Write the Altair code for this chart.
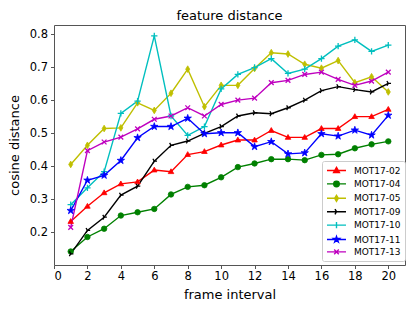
import re
import altair as alt
import pandas as pd

frames = list(range(1, 21))

mot02 = [0.232, 0.278, 0.319, 0.346, 0.352, 0.388, 0.383, 0.435, 0.444, 0.464,
         0.479, 0.479, 0.508, 0.487, 0.487, 0.514, 0.514, 0.550, 0.550, 0.572]
mot04 = [0.141, 0.185, 0.210, 0.250, 0.260, 0.270, 0.314, 0.337, 0.342, 0.366,
         0.397, 0.408, 0.421, 0.421, 0.418, 0.434, 0.436, 0.454, 0.466, 0.475]
mot05 = [0.405, 0.463, 0.514, 0.516, 0.592, 0.569, 0.621, 0.694, 0.580, 0.645,
         0.645, 0.696, 0.744, 0.740, 0.709, 0.697, 0.720, 0.653, 0.671, 0.625]
mot09 = [0.134, 0.205, 0.245, 0.312, 0.339, 0.415, 0.463, 0.476, 0.499, 0.520,
         0.552, 0.562, 0.559, 0.577, 0.600, 0.629, 0.641, 0.632, 0.625, 0.651]
mot10 = [0.283, 0.334, 0.383, 0.560, 0.597, 0.795, 0.552, 0.493, 0.520, 0.634,
         0.678, 0.699, 0.726, 0.681, 0.694, 0.726, 0.764, 0.783, 0.748, 0.767]
mot11 = [0.265, 0.357, 0.372, 0.417, 0.486, 0.520, 0.520, 0.545, 0.498, 0.501,
         0.501, 0.459, 0.474, 0.437, 0.440, 0.498, 0.491, 0.509, 0.494, 0.554]
mot13 = [0.214, 0.447, 0.473, 0.488, 0.513, 0.542, 0.552, 0.577, 0.552, 0.587,
         0.600, 0.606, 0.653, 0.660, 0.678, 0.685, 0.663, 0.645, 0.658, 0.685]

series_names = ["MOT17-02", "MOT17-04", "MOT17-05", "MOT17-09",
                "MOT17-10", "MOT17-11", "MOT17-13"]
series_values = [mot02, mot04, mot05, mot09, mot10, mot11, mot13]
series_colors = ["#ff0000", "#008000", "#bfbf00", "#000000",
                 "#00bfbf", "#0000ff", "#bf00bf"]

x_ticks = list(range(0, 21, 2))
y_ticks = [0.2, 0.3, 0.4, 0.5, 0.6, 0.7, 0.8]

rows = []
for name, vals in zip(series_names, series_values):
    for f, v in zip(frames, vals):
        rows.append({"frame": f, "dist": v, "series": name})
df = pd.DataFrame(rows)

# marker glyphs (unit square -1..1)
star = ("M0,-1L0.2234,-0.3074L0.951,-0.309L0.3614,0.1174L0.5878,0.809L0,0.38"
        "L-0.5878,0.809L-0.3614,0.1174L-0.951,-0.309L-0.2234,-0.3074Z")
markers = [
    ("M0,-1L0.95,0.65L-0.95,0.65Z", True, 34),
    ("circle", True, 30),
    ("M0,-1L0.6,0L0,1L-0.6,0Z", True, 45),
    ("M0,0L1,0M0,0L-0.5,-0.87M0,0L-0.5,0.87", False, 30),
    ("M-1,0L1,0M0,-1L0,1", False, 40),
    (star, True, 60),
    ("M-0.75,-0.75L0.75,0.75M-0.75,0.75L0.75,-0.75", False, 40),
]


def transform_path(p, k, dx):
    out = []
    for cmd, args in re.findall(r"([MLZ])([^MLZ]*)", p):
        if cmd == "Z":
            out.append("Z")
            continue
        xs, ys = args.split(",")
        out.append("%s%.3f,%.3f" % (cmd, float(xs) * k + dx, float(ys) * k))
    return "".join(out)


# legend glyph: a short line with the marker at its middle
LEG_L, LEG_R = -1.0, 3.22
LEG_C = (LEG_L + LEG_R) / 2
legend_paths = []
for shp, filled, size in markers:
    if shp == "circle":
        r = 0.62
        glyph = "M%.3f,0A%.3f,%.3f 0 1,0 %.3f,0A%.3f,%.3f 0 1,0 %.3f,0Z" % (
            LEG_C - r, r, r, LEG_C + r, r, r, LEG_C - r)
    else:
        glyph = transform_path(shp, 0.68, LEG_C)
    legend_paths.append("M%.2f,0L%.2f,0" % (LEG_L, LEG_R) + glyph)

x_enc = alt.X("frame:Q",
              scale=alt.Scale(domain=[0, 21], nice=False, zero=False),
              axis=alt.Axis(values=x_ticks, title="frame interval",
                            labelPadding=2, titlePadding=6, format="d"))
y_enc = alt.Y("dist:Q",
              scale=alt.Scale(domain=[0.1, 0.828], nice=False, zero=False),
              axis=alt.Axis(values=y_ticks, format=".1f", title="cosine distance",
                            labelPadding=3, titlePadding=8))

layers = []
for name, color, (shp, filled, size) in zip(series_names, series_colors, markers):
    base = alt.Chart(df).transform_filter(alt.datum.series == name)
    layers.append(base.mark_line(color=color, strokeWidth=1.4).encode(x=x_enc, y=y_enc))
for name, color, (shp, filled, size) in zip(series_names, series_colors, markers):
    base = alt.Chart(df).transform_filter(alt.datum.series == name)
    if filled:
        pm = base.mark_point(shape=shp, filled=True, fill=color, stroke=color,
                             strokeWidth=0.8, size=size, opacity=1)
    else:
        pm = base.mark_point(shape=shp, filled=False, color=color,
                             strokeWidth=1.3, size=size, opacity=1)
    layers.append(pm.encode(x=x_enc, y=y_enc))

leg = alt.Legend(title=None, orient="none", legendX=268, legendY=136)
legend_layer = alt.Chart(df).transform_filter("false").mark_point(
    filled=True, opacity=1, strokeWidth=1.4
).encode(
    x=x_enc, y=y_enc,
    color=alt.Color("series:N", scale=alt.Scale(domain=series_names, range=series_colors), legend=leg),
    stroke=alt.Stroke("series:N", scale=alt.Scale(domain=series_names, range=series_colors), legend=leg),
    shape=alt.Shape("series:N", scale=alt.Scale(domain=series_names, range=legend_paths), legend=leg),
)
layers.append(legend_layer)

chart = alt.layer(*layers).properties(
    width=351, height=240,
    autosize=alt.AutoSizeParams(type="none"),
    padding={"left": 46, "top": 17, "right": 2, "bottom": 36},
    title=alt.TitleParams("feature distance", font="DejaVu Sans", fontSize=13,
                          fontWeight="normal", color="#000", offset=2, anchor="middle"),
).configure_view(
    stroke="#555", strokeWidth=1
).configure_axis(
    domain=False, grid=False, tickColor="#555", tickSize=3.5, tickWidth=1,
    labelFont="DejaVu Sans", labelFontSize=11.5, labelColor="#000",
    titleFont="DejaVu Sans", titleFontSize=13, titleFontWeight="normal", titleColor="#000",
).configure_legend(
    labelFont="DejaVu Sans", labelFontSize=9, labelColor="#000",
    strokeColor="#ccc", fillColor="white", padding=4, cornerRadius=2,
    symbolSize=81, symbolStrokeWidth=1.4, rowPadding=1.4, labelOffset=17,
)

chart.save("out.html", embed_options={"renderer": "svg", "actions": False})
